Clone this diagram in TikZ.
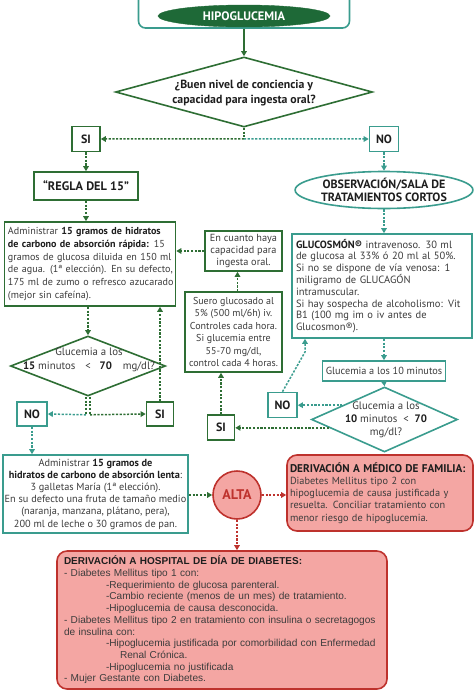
\documentclass[tikz,border=0pt]{standalone}
\usepackage{fontspec}
\setmainfont{PT Sans}
\newfontfamily\hospfont{Liberation Sans}
\usetikzlibrary{arrows.meta,shapes.geometric,calc}
\definecolor{dg}{RGB}{46,110,52}
\definecolor{eg}{RGB}{30,105,55}
\definecolor{tl}{RGB}{58,156,142}
\definecolor{rd}{RGB}{190,50,45}
\definecolor{pk}{RGB}{244,166,163}
\definecolor{tx}{RGB}{60,60,60}
\definecolor{tb}{RGB}{30,30,30}
\begin{document}
\begin{tikzpicture}[x=1pt,y=-1pt,
  body/.style={font=\fontsize{10.3}{12.2}\selectfont, text=tx},
  gbox/.style={draw=dg, line width=1.6pt, fill=white, inner sep=2pt, body},
  tbox/.style={draw=tl, line width=1.6pt, fill=white, inner sep=2pt, body},
  small/.style={minimum width=28pt, minimum height=25pt, inner sep=0pt, font=\bfseries\fontsize{12}{14}\selectfont, text=tb},
  gdiam/.style={diamond, draw=dg, line width=1.6pt, fill=white, inner sep=0pt},
  tdiam/.style={diamond, draw=tl, line width=1.6pt, fill=white, inner sep=0pt},
  rbox/.style={draw=rd, line width=1.6pt, fill=pk, rounded corners=10pt, inner sep=5pt},
  dl/.style={line width=1.5pt, dash pattern=on 2.2pt off 1.5pt},
  tip/.style={-{Triangle[length=5pt,width=5.5pt]}},
  garr/.style={dl, tip, draw=dg},
  tarr/.style={dl, tip, draw=tl},
  rarr/.style={dl, tip, draw=rd},
]
\useasboundingbox (0,0) rectangle (474,691);

% top
\node[draw=tl, line width=1.6pt, fill=white, rounded corners=7pt, minimum width=211pt, minimum height=36pt] (topb) at (244,10) {};
\node[ellipse, fill=eg, draw=eg, minimum width=172pt, minimum height=22pt, inner sep=0pt, text=white, font=\bfseries\fontsize{12.3}{14}\selectfont] (hipo) at (244,16) {HIPOGLUCEMIA};

% decision 1
\node[gdiam, minimum width=257pt, minimum height=70pt] (d1) at (244,92) {};
\node[align=center, font=\bfseries\fontsize{11.8}{14.5}\selectfont, text=tb] (d1t) at (244,93) {¿Buen nivel de conciencia y\\capacidad para ingesta oral?};

\node[gbox, small] (si1) at (86,139) {SI};
\node[tbox, small, minimum width=29pt] (no1) at (384,139) {NO};

\node[gbox, minimum width=104pt, minimum height=28pt, font=\bfseries\fontsize{12.3}{14}\selectfont, text=tb] (regla) at (86,186) {“REGLA DEL 15”};

\node[gbox, minimum width=171pt, minimum height=84pt, align=left, text width=164pt, font=\fontsize{10.1}{12.8}\selectfont] (adm) at (90,264) {%
Administrar \textbf{\color{tb}15 gramos de hidratos}\\
\makebox[164pt][s]{\textbf{\color{tb}de carbono de absorción rápida:} 15}\\
\makebox[164pt][s]{gramos de glucosa diluida en 150 ml}\\
\makebox[164pt][s]{de agua. (1ª elección). En su defecto,}\\
\makebox[164pt][s]{175 ml de zumo o refresco azucarado}\\
(mejor sin cafeína).};

\node[gbox, minimum width=77pt, minimum height=40pt, align=center] (encu) at (243.5,251) {En cuanto haya\\capacidad para\\ingesta oral.};

\node[gbox, minimum width=97pt, minimum height=80pt, align=center, font=\fontsize{10}{12.4}\selectfont] (suero) at (233.5,332) {Suero glucosado al\\5\% (500 ml/6h) iv.\\Controles cada hora.\\Si glucemia entre\\55-70 mg/dl,\\control cada 4 horas.};

\node[gdiam, minimum width=155pt, minimum height=60pt] (d2) at (88,366) {};
\node[align=center, body, font=\fontsize{10.8}{13.5}\selectfont] (d2t) at (89,360) {Glucemia a los\\\textbf{\color{tb}15} minutos\hspace{7pt} < \hspace{6pt}\textbf{\color{tb}70}\hspace{8pt} mg/dl?};

\node[tbox, small, minimum width=30pt, minimum height=24pt] (no2) at (32,414) {NO};
\node[gbox, small, minimum width=27pt, minimum height=24pt] (si2) at (160,414) {SI};

\node[tbox, minimum width=185pt, minimum height=78pt, inner sep=0.5pt, align=center] (lenta) at (95.5,494) {%
Administrar \textbf{\color{tb}15 gramos de}\\
\textbf{\color{tb}hidratos de carbono de absorción lenta}:\\
3 galletas María (1ª elección).\\
En su defecto una fruta de tamaño medio\\
(naranja, manzana, plátano, pera),\\
200 ml de leche o 30 gramos de pan.};

\node[circle, draw=rd, line width=1.6pt, fill=pk, minimum size=48pt, inner sep=0pt, font=\bfseries\fontsize{14}{16}\selectfont, text=rd] (alta) at (237,495) {ALTA};

\node[rbox, minimum width=186pt, minimum height=76pt, align=left, text width=180pt, inner xsep=3pt, body, text=tx] (med) at (380,493) {%
{\fontsize{11.2}{12}\selectfont\textbf{\color{tb}DERIVACIÓN A MÉDICO DE FAMILIA:}}\\
Diabetes Mellitus tipo 2 con\\
hipoglucemia de causa justificada y\\
resuelta. Conciliar tratamiento con\\
menor riesgo de hipoglucemia.};

\node[rbox, minimum width=330pt, minimum height=137pt, align=left, text width=316pt, inner xsep=7pt, font=\hospfont\fontsize{10.1}{11.7}\selectfont, text=tx] (hosp) at (222,620) {%
\mbox{\fontsize{10}{11.7}\selectfont\textbf{\color{tb}DERIVACIÓN A HOSPITAL DE DÍA DE DIABETES:}}\\
\mbox{- Diabetes Mellitus tipo 1 con:}\\
\mbox{\hspace*{42pt}-Requerimiento de glucosa parenteral.}\\
\mbox{\hspace*{42pt}-Cambio reciente (menos de un mes) de tratamiento.}\\
\mbox{\hspace*{42pt}-Hipoglucemia de causa desconocida.}\\
\mbox{- Diabetes Mellitus tipo 2 en tratamiento con insulina o secretagogos}\\
\mbox{de insulina con:}\\
\mbox{\hspace*{42pt}-Hipoglucemia justificada por comorbilidad con Enfermedad}\\
\mbox{\hspace*{56pt}Renal Crónica.}\\
\mbox{\hspace*{42pt}-Hipoglucemia no justificada}\\
\mbox{- Mujer Gestante con Diabetes.}};

% right branch
\node[ellipse, draw=tl, line width=1.6pt, fill=white, minimum width=177pt, minimum height=37pt, inner sep=0pt, align=center, font=\bfseries\fontsize{12}{13.5}\selectfont, text=tb] (obs) at (384,190) {OBSERVACIÓN/SALA DE\\TRATAMIENTOS CORTOS};

\node[tbox, minimum width=180pt, minimum height=104pt, align=left, text width=172pt, font=\fontsize{10.5}{11.8}\selectfont] (gluc) at (382,286) {%
\textbf{\color{tb}GLUCOSMÓN®} intravenoso. 30 ml\\
de glucosa al 33\% ó 20 ml al 50\%.\\
Si no se dispone de vía venosa: 1\\
miligramo de GLUCAGÓN\\
intramuscular.\\
Si hay sospecha de alcoholismo: Vit\\
B1 (100 mg im o iv antes de\\
Glucosmon®).};

\node[tbox, minimum width=123pt, minimum height=20pt] (g10) at (384,371) {Glucemia a los 10 minutos};

\node[tdiam, minimum width=146pt, minimum height=65pt] (d3) at (384.5,419.5) {};
\node[align=center, body, font=\fontsize{10.8}{12.8}\selectfont] (d3t) at (386,420) {Glucemia a los\\\textbf{\color{tb}10} minutos\hspace{3pt} < \hspace{3pt}\textbf{\color{tb}70}\\mg/dl?};

\node[tbox, small, minimum width=29pt, minimum height=25pt] (no3) at (282.5,405) {NO};
\node[gbox, small, minimum width=27pt, minimum height=25pt] (si3) at (221,427.5) {SI};

% connectors
\draw[line width=1.6pt, draw=dg, tip] (topb.south) -- (d1.north);
\coordinate (j1) at ($(d1.south)+(0,11)$);
\draw[dl, draw=dg] (d1.south) -- (j1);
\draw[garr] (j1) -- (si1.east);
\draw[tarr] (j1) -- (no1.west);
\draw[garr] (si1.south) -- (regla.north);
\draw[garr] (regla.south) -- (regla.south |- adm.north);
\draw[garr] (d2.north |- adm.south) -- (d2.north);
\coordinate (j2) at ($(d2.south)+(0,18)$);
\draw[dl, draw=dg] ($(d2.south)+(-2,0)$) -- ($(j2)+(-2,0)$);
\draw[dl, draw=dg] ($(d2.south)+(2,0)$) -- ($(j2)+(2,0)$);
\draw[tarr] ($(j2)+(-2,0)$) -- (no2.east);
\draw[garr] ($(j2)+(2,0)$) -- (si2.west);
\draw[garr] (si2.north) -- (si2.north |- adm.south);
\draw[tarr] (no2.south) -- (no2.south |- lenta.north);
\draw[garr] (lenta.east |- alta.west) -- (alta.west);
\draw[rarr] (alta.east) -- (med.west |- alta.east);
\draw[rarr] (alta.south) -- (alta.south |- hosp.north);

\draw[tarr] (no1.south) -- (obs.north);
\draw[tarr] (obs.south) -- (obs.south |- gluc.north);
\draw[tarr] (gluc.south -| g10.north) -- (g10.north);
\draw[tarr] (g10.south) -- (d3.north);
\coordinate (p3a) at ($(d3.west)!0.43!(d3.north)$);
\coordinate (p3b) at ($(d3.west)!0.25!(d3.south)$);
\draw[tarr] (p3a) -- (p3a -| no3.east);
\draw[garr] (p3b) -- (p3b -| si3.east);
\coordinate (bend) at (305,352);
\draw[tarr] (no3.north) -- (bend) -- (bend |- gluc.south);
\draw[garr] (si3.north) -- (si3.north |- suero.south);
\coordinate (su) at ($(suero.north)+(4,0)$);
\draw[garr] (su) -- (su |- encu.south);
\draw[garr] (encu.west) -- (encu.west -| adm.east);
\end{tikzpicture}
\end{document}
